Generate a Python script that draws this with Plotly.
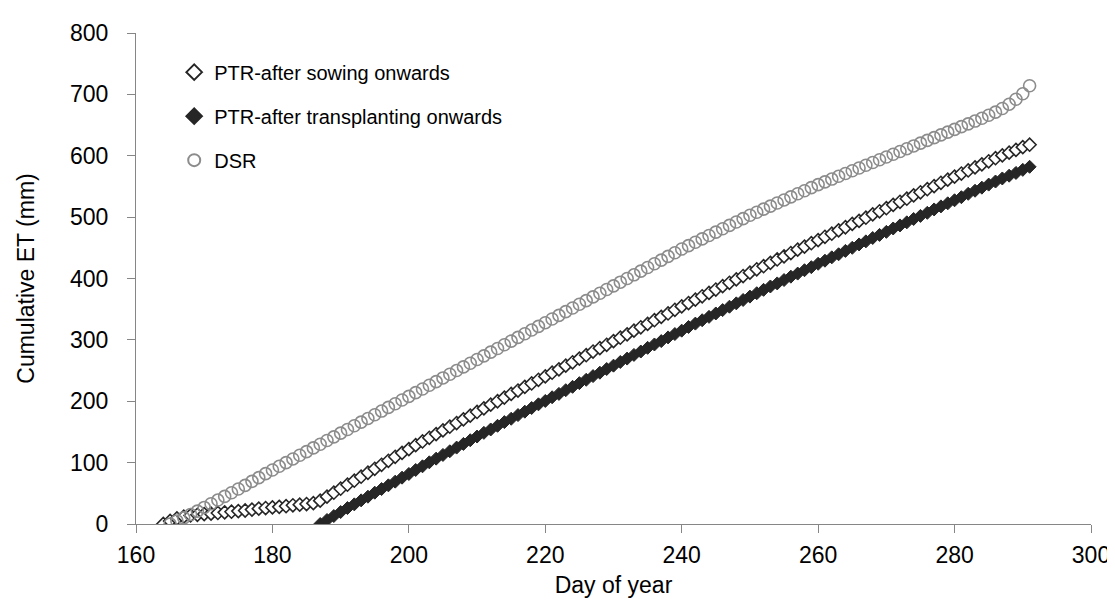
import plotly.graph_objects as go

# PTR - after sowing onwards (open diamonds), days 164..291
ptr_sow_days = list(range(164, 292))
ptr_sow_et = [
    0, 5, 9, 12, 14, 15, 16, 17, 18, 19, 20, 21, 22, 23.5, 25, 26, 27, 28, 29, 30.5, 31.5, 32.5, 34,
    38, 44.5, 51, 57.5, 64, 70.5, 77, 83.5, 90, 96.5, 103, 109.5, 116, 122, 128.5, 134.5, 140.5, 146.5,
    152.5, 158.5, 164.5, 170.5, 176.5, 182.5, 188.5, 194.5, 200, 206, 212, 217.5, 223.5, 229, 235,
    240.5, 246.5, 252, 258, 263.5, 269.5, 275, 281, 286.5, 292, 298, 303.5, 309, 315, 320.5, 326,
    332, 337.5, 343, 349, 354.5, 360, 365.5, 371, 376.5, 382, 387.5, 393, 398.5, 404, 409.5, 415,
    420, 425.5, 431, 436, 441.5, 447, 452, 457.5, 462.5, 468, 473, 478.5, 483.5, 489, 494, 499,
    504.5, 509.5, 514.5, 520, 525, 530, 535.5, 540.5, 545.5, 550.5, 556, 561, 566, 571, 576, 581,
    586, 591, 596, 600.5, 605, 609.5, 614, 618,
]

# PTR - after transplanting onwards (filled diamonds), days 187..291
ptr_tr_days = list(range(187, 292))
ptr_tr_et = [
    0, 6.5, 13, 19.5, 26, 32, 38.5, 44.5, 51, 57, 63, 69, 75.5, 81.5, 88, 94, 100.5, 106.5, 112.5,
    118.5, 124.5, 130.5, 136.5, 142.5, 148.5, 154, 160, 166, 171.5, 177.5, 183, 189, 195, 200.5,
    206.5, 212, 218, 223.5, 229.5, 235, 241, 246.5, 252.5, 258, 264, 269.5, 275.5, 281, 287, 292.5,
    298, 304, 309.5, 315, 321, 326.5, 332, 337.5, 343, 348.5, 354, 359.5, 365, 370.5, 376, 381.5,
    387, 392, 397.5, 403, 408, 413.5, 418.5, 424, 429, 434.5, 439.5, 445, 450, 455.5, 460.5, 466,
    471, 476, 481.5, 486.5, 491.5, 497, 502, 507, 512.5, 517.5, 522.5, 527.5, 532.5, 538, 543, 548,
    553, 558, 563, 567.5, 572, 577, 582,
]

# DSR (open circles), days 165..291
dsr_days = list(range(165, 292))
dsr_et = [
    0, 5, 10, 15.5, 21, 27, 33, 39, 45, 51, 57, 63, 69.5, 75.5, 82, 88, 94, 100, 106, 112, 118, 124,
    130, 136, 142, 148, 154, 160, 166, 172, 178, 184, 190, 196, 202, 208, 214, 220, 226, 232, 238,
    244, 250, 256, 262, 268, 274, 280, 286, 292, 298, 304, 310, 316, 322, 328, 334, 340, 346, 352,
    358, 364, 370, 376, 382, 388, 394, 400, 406, 412, 418, 424, 430, 436, 442, 448, 453.5, 459,
    464.5, 470, 475.5, 481, 486.5, 492, 497.5, 503, 508, 513, 518, 523, 528, 533, 538, 543, 548,
    553, 557.5, 562, 566.5, 571, 575.5, 580, 584.5, 589, 593.5, 598, 602.5, 607, 611.5, 616,
    620.5, 625, 629.5, 634, 638.5, 643, 647.5, 652, 656.5, 661, 666, 671, 677, 684, 692, 701, 714,
]

names = ["PTR-after sowing onwards", "PTR-after transplanting onwards", "DSR"]
x_ticks = [160, 180, 200, 220, 240, 260, 280, 300]
y_ticks = [0, 100, 200, 300, 400, 500, 600, 700, 800]

FONT = "Liberation Sans, Arial, sans-serif"
AXIS = "#868686"

fig = go.Figure()
fig.add_trace(go.Scatter(
    x=ptr_sow_days, y=ptr_sow_et, mode="markers", name=names[0], legendgroup="a",
    marker=dict(symbol="diamond", size=10, color="white", line=dict(color="#262626", width=1.6)),
))
fig.add_trace(go.Scatter(
    x=ptr_tr_days, y=ptr_tr_et, mode="markers", name=names[1], legendgroup="b",
    marker=dict(symbol="diamond", size=10, color="#262626", line=dict(color="#262626", width=1)),
))
fig.add_trace(go.Scatter(
    x=dsr_days, y=dsr_et, mode="markers", name=names[2], legendgroup="c",
    marker=dict(symbol="circle-open", size=12, color="#8c8c8c", line=dict(color="#8c8c8c", width=1.6)),
))

fig.update_layout(
    width=1115, height=607,
    margin=dict(l=128, r=32, t=22, b=91),
    paper_bgcolor="white", plot_bgcolor="white",
    font=dict(family=FONT, size=23, color="black"),
    legend=dict(
        x=0.04, y=0.96, xanchor="left", yanchor="top",
        bgcolor="rgba(0,0,0,0)", font=dict(size=20, color="black"),
        tracegroupgap=15, itemsizing="constant",
    ),
    xaxis=dict(
        range=[160, 300], tickvals=x_ticks, ticktext=[str(v) for v in x_ticks],
        showline=True, linecolor=AXIS, linewidth=1, ticks="outside", ticklen=8, tickcolor=AXIS,
        showgrid=False, zeroline=False, ticklabelstandoff=2, tickfont=dict(size=23),
        title=dict(text="Day of year", standoff=10, font=dict(size=23)),
    ),
    yaxis=dict(
        range=[0, 800], tickvals=y_ticks, ticktext=[str(v) for v in y_ticks],
        showline=True, linecolor=AXIS, linewidth=1, ticks="outside", ticklen=8, tickcolor=AXIS,
        showgrid=False, zeroline=False, ticklabelstandoff=14, tickfont=dict(size=23),
        title=dict(text="Cumulative ET (mm)", standoff=28, font=dict(size=23)),
    ),
)

fig.write_html("out.html")
